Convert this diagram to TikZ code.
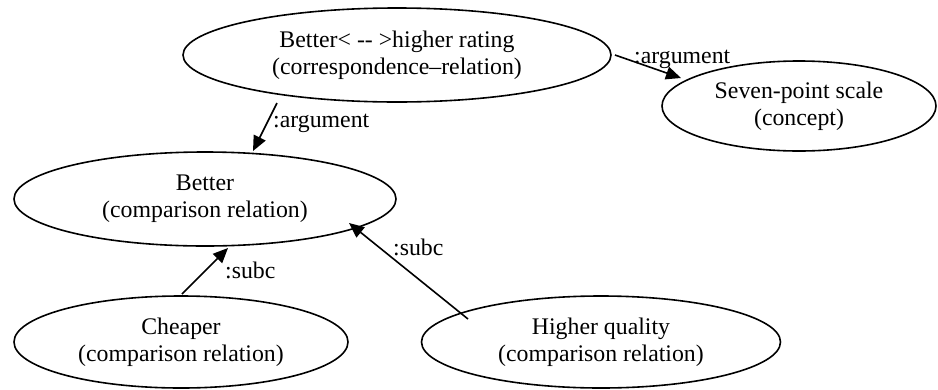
\documentclass[tikz,border=0pt]{standalone}
\usepackage{fontspec}
\setmainfont{Liberation Serif}
\usetikzlibrary{shapes.geometric,arrows.meta}

\tikzset{
  concept/.style={draw, ellipse, line width=1.6pt, inner sep=0pt, align=center,
    font=\fontsize{23.8}{27}\selectfont},
  link/.style={line width=1.6pt, -{Triangle[length=15pt,width=13pt]}},
  role/.style={inner sep=0pt, anchor=base west, font=\fontsize{23.8}{27}\selectfont}
}

\begin{document}
\begin{tikzpicture}[x=1pt,y=-1pt]
  \useasboundingbox (0,0) rectangle (938,389);

  % concept nodes
  \node[concept, minimum width=428pt, minimum height=94pt] (corr) at (397,55)
    {Better< {-}{-} >higher rating\\(correspondence\textendash relation)};
  \node[concept, minimum width=274pt, minimum height=90pt] (scale) at (799,106)
    {Seven-point scale\\(concept)};
  \node[concept, minimum width=382pt, minimum height=94pt] (better) at (205,199)
    {Better\\(comparison relation)};
  \node[concept, minimum width=334pt, minimum height=92pt] (cheaper) at (181,342)
    {Cheaper\\(comparison relation)};
  \node[concept, minimum width=359pt, minimum height=92pt] (quality) at (601,342)
    {Higher quality\\(comparison relation)};

  % relations
  \draw[link] ([shift={(-120,48)}]corr.center) -- ([shift={(48,-48)}]better.center);
  \draw[link] ([shift={(218,0)}]corr.center) -- ([shift={(-118,-28)}]scale.center);
  \draw[link] ([shift={(1,-48)}]cheaper.center) -- ([shift={(23,49)}]better.center);
  \draw[link] ([shift={(-133,-23)}]quality.center) -- ([shift={(144,24)}]better.center);

  % role labels
  \node[role] (l1) at (273,127) {:argument};
  \node[role] (l2) at (634,63) {:argument};
  \node[role] (l3) at (225,278) {:subc};
  \node[role] (l4) at (393,255) {:subc};
\end{tikzpicture}
\end{document}
